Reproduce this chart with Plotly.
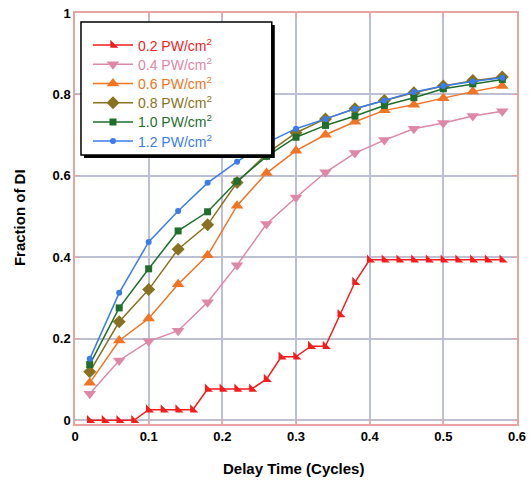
import plotly.graph_objects as go

# ---- data ----
x_fine = [0.02, 0.04, 0.06, 0.08, 0.10, 0.12, 0.14, 0.16, 0.18, 0.20,
          0.22, 0.24, 0.26, 0.28, 0.30, 0.32, 0.34, 0.36, 0.38, 0.40,
          0.42, 0.44, 0.46, 0.48, 0.50, 0.52, 0.54, 0.56, 0.58]
x_coarse = [0.02, 0.06, 0.10, 0.14, 0.18, 0.22, 0.26, 0.30,
            0.34, 0.38, 0.42, 0.46, 0.50, 0.54, 0.58]

y_02 = [0.0, 0.0, 0.0, 0.0, 0.026, 0.026, 0.026, 0.026, 0.077, 0.077,
        0.077, 0.077, 0.101, 0.156, 0.156, 0.182, 0.182, 0.26, 0.339, 0.394,
        0.394, 0.394, 0.394, 0.394, 0.394, 0.394, 0.394, 0.394, 0.394]
y_04 = [0.065, 0.147, 0.194, 0.220, 0.290, 0.381, 0.482, 0.547,
        0.609, 0.656, 0.688, 0.716, 0.730, 0.747, 0.759]
y_06 = [0.092, 0.196, 0.250, 0.334, 0.405, 0.527, 0.607, 0.662,
        0.701, 0.733, 0.761, 0.775, 0.791, 0.807, 0.821]
y_08 = [0.119, 0.242, 0.321, 0.420, 0.480, 0.584, 0.654, 0.706,
        0.740, 0.765, 0.785, 0.804, 0.821, 0.834, 0.843]
y_10 = [0.137, 0.276, 0.372, 0.465, 0.512, 0.587, 0.648, 0.695,
        0.724, 0.747, 0.773, 0.792, 0.814, 0.826, 0.837]
y_12 = [0.151, 0.313, 0.438, 0.514, 0.583, 0.635, 0.681, 0.716,
        0.740, 0.765, 0.785, 0.806, 0.821, 0.832, 0.841]

names = ["0.2 PW/cm<sup>2</sup>", "0.4 PW/cm<sup>2</sup>", "0.6 PW/cm<sup>2</sup>",
         "0.8 PW/cm<sup>2</sup>", "1.0 PW/cm<sup>2</sup>", "1.2 PW/cm<sup>2</sup>"]

x_ticks = [0, 0.1, 0.2, 0.3, 0.4, 0.5, 0.6]
x_ticklabels = ["0", "0.1", "0.2", "0.3", "0.4", "0.5", "0.6"]
y_ticks = [0, 0.2, 0.4, 0.6, 0.8, 1.0]
y_ticklabels = ["0", "0.2", "0.4", "0.6", "0.8", "1"]

x_title = "Delay Time (Cycles)"
y_title = "Fraction of DI"

# ---- styles ----
series = [
    (x_fine, y_02, "#F41C1C", "triangle-sw", 9),
    (x_coarse, y_04, "#DE87A6", "triangle-down", 11),
    (x_coarse, y_06, "#F07424", "triangle-up", 11),
    (x_coarse, y_08, "#877222", "diamond", 10),
    (x_coarse, y_10, "#1F6E2C", "square", 7),
    (x_coarse, y_12, "#3B7CEB", "circle", 6),
]

FONT = "Liberation Sans, Arial, sans-serif"
FRAME = "#E9A3A3"
GRID = "#BDBFD3"

# plot area: x 75..517.5 px, y 13..424 px
W, H = 529, 481
L, R, T, B = 75, 11.5, 13, 57
pw, ph = W - L - R, H - T - B

def px2paper(px, py):
    return (px - L) / pw, (H - B - py) / ph

fig = go.Figure()
legend_layouts = {}
for i, ((xs, ys, col, sym, sz), nm) in enumerate(zip(series, names)):
    lg = "legend" if i == 0 else f"legend{i + 1}"
    fig.add_trace(go.Scatter(
        x=xs, y=ys, mode="lines+markers",
        name=f'<span style="color:{col}">{nm}</span>',
        legend=lg,
        line=dict(color=col, width=1.5),
        marker=dict(symbol=sym, size=sz, color=col, line=dict(width=0)),
    ))
    lx, ly = px2paper(88, 45.5 + 19.2 * i)
    legend_layouts[lg] = dict(
        x=lx, y=ly, xanchor="left", yanchor="middle",
        bgcolor="rgba(0,0,0,0)", borderwidth=0,
        font=dict(size=14, family=FONT), itemwidth=40,
    )

# legend box with shadow
bx0, by0 = px2paper(81, 22)
bx1, by1 = px2paper(272, 155)
sx0, sy0 = px2paper(84, 25)
sx1, sy1 = px2paper(275, 158)

xt_x, xt_y = px2paper(294, 468)
yt_x, yt_y = px2paper(20, 218)

fig.update_layout(
    width=W, height=H,
    margin=dict(l=L, r=R, t=T, b=B, pad=0),
    paper_bgcolor="white", plot_bgcolor="white",
    font=dict(family=FONT, color="black"),
    showlegend=True,
    shapes=[
        dict(type="rect", xref="paper", yref="paper", x0=sx0, y0=sy0, x1=sx1, y1=sy1,
             fillcolor="black", line=dict(width=0), layer="above"),
        dict(type="rect", xref="paper", yref="paper", x0=bx0, y0=by0, x1=bx1, y1=by1,
             fillcolor="white", line=dict(color="black", width=1.5), layer="above"),
    ],
    annotations=[
        dict(text=f"<b>{x_title}</b>", xref="paper", yref="paper", x=xt_x, y=xt_y,
             xanchor="center", yanchor="middle", showarrow=False,
             font=dict(size=15, family=FONT, color="black")),
        dict(text=f"<b>{y_title}</b>", xref="paper", yref="paper", x=yt_x, y=yt_y,
             xanchor="center", yanchor="middle", showarrow=False, textangle=-90,
             font=dict(size=15, family=FONT, color="black")),
    ],
    xaxis=dict(
        range=[0, 0.6], tickvals=x_ticks, ticktext=x_ticklabels, automargin=False,
        showgrid=True, gridcolor=GRID, gridwidth=1.5, zeroline=False,
        showline=True, linecolor=FRAME, linewidth=1.5, mirror="ticks",
        ticks="inside", ticklen=5, tickcolor=FRAME, tickwidth=1,
        tickfont=dict(size=13, family=FONT, weight="bold"),
    ),
    yaxis=dict(
        range=[-0.009, 1.0], tickvals=y_ticks, ticktext=y_ticklabels, automargin=False,
        showgrid=True, gridcolor=GRID, gridwidth=1.5, zeroline=False,
        showline=True, linecolor=FRAME, linewidth=1.5, mirror="ticks",
        ticks="inside", ticklen=5, tickcolor=FRAME, tickwidth=1,
        tickfont=dict(size=13, family=FONT, weight="bold"),
    ),
    **legend_layouts,
)

fig.write_html("out.html")
